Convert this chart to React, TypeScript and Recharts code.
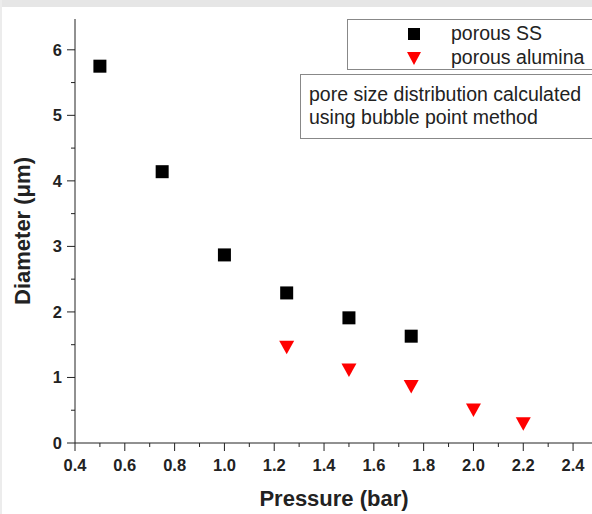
import React from "react";
import { ScatterChart, Scatter, XAxis, YAxis, Legend } from "recharts";

const ssPressure = [0.5, 0.75, 1.0, 1.25, 1.5, 1.75];
const ssDiameter = [5.75, 4.14, 2.87, 2.29, 1.91, 1.63];
const aluminaPressure = [1.25, 1.5, 1.75, 2.0, 2.2];
const aluminaDiameter = [1.47, 1.12, 0.87, 0.51, 0.3];
const xMajorTicks = [0.4, 0.6, 0.8, 1.0, 1.2, 1.4, 1.6, 1.8, 2.0, 2.2, 2.4];
const xMinorTicks = [0.5, 0.7, 0.9, 1.1, 1.3, 1.5, 1.7, 1.9, 2.1, 2.3];
const yMajorTicks = [0, 1, 2, 3, 4, 5, 6];
const yMinorTicks = [0.5, 1.5, 2.5, 3.5, 4.5, 5.5];
const seriesNames = ["porous SS", "porous alumina"];
const noteLines = ["pore size distribution calculated", "using bubble point method"];

const ssData = ssPressure.map((x, i) => ({ x, y: ssDiameter[i] }));
const aluminaData = aluminaPressure.map((x, i) => ({ x, y: aluminaDiameter[i] }));
const xAllTicks = [...xMajorTicks, ...xMinorTicks].sort((a, b) => a - b);
const yAllTicks = [...yMajorTicks, ...yMinorTicks].sort((a, b) => a - b);
const isMajor = (list: number[], v: number) => list.some((m) => Math.abs(m - v) < 1e-6);

const FONT = "'Liberation Sans', Arial, sans-serif";
const AXIS = "#222";
const MAJOR = 8;
const MINOR = 4;

const Square = (props: any) => {
  const { cx, cy } = props;
  return <rect x={cx - 6.5} y={cy - 6.5} width={13} height={13} fill="#000" />;
};
const TriDown = (props: any) => {
  const { cx, cy } = props;
  return <polygon points={`${cx - 7.5},${cy - 6} ${cx + 7.5},${cy - 6} ${cx},${cy + 7.5}`} fill="#ff0000" />;
};

const XTick = (props: any) => {
  const { x, y, payload } = props;
  const v = payload.value;
  const major = isMajor(xMajorTicks, v);
  return (
    <g>
      <line x1={x} x2={x} y1={y} y2={y + (major ? MAJOR : MINOR)} stroke={AXIS} strokeWidth={1} />
      {major && (
        <text
          x={x}
          y={y + MAJOR + 8}
          dy="0.71em"
          textAnchor="middle"
          fill="#222"
          fontFamily={FONT}
          fontSize={16.5}
          fontWeight="bold"
        >
          {v.toFixed(1)}
        </text>
      )}
    </g>
  );
};

const YTick = (props: any) => {
  const { x, y, payload } = props;
  const v = payload.value;
  const major = isMajor(yMajorTicks, v);
  return (
    <g>
      <line x1={x - (major ? MAJOR : MINOR)} x2={x} y1={y} y2={y} stroke={AXIS} strokeWidth={1} />
      {major && (
        <text
          x={x - MAJOR - 5}
          y={y}
          dy="0.355em"
          textAnchor="end"
          fill="#222"
          fontFamily={FONT}
          fontSize={16.5}
          fontWeight="bold"
        >
          {String(v)}
        </text>
      )}
    </g>
  );
};

const LegendBox = () => (
  <div
    style={{
      position: "absolute",
      left: 347,
      top: 19,
      width: 260,
      height: 51,
      border: "1px solid #888",
      background: "#fff",
      boxSizing: "border-box",
    }}
  >
    <svg width={260} height={49} style={{ position: "absolute", left: 0, top: 0 }}>
      <rect x={60} y={8} width={12} height={12} fill="#000" />
      <polygon points="59,32 73,32 66,45" fill="#ff0000" />
      <text x={103} y={20} fontFamily={FONT} fontSize={19.5} fill="#222">{seriesNames[0]}</text>
      <text x={103} y={44} fontFamily={FONT} fontSize={19.5} fill="#222">{seriesNames[1]}</text>
    </svg>
  </div>
);

const NoteBox = () => (
  <div
    style={{
      position: "absolute",
      left: 300,
      top: 74,
      width: 320,
      height: 65,
      border: "1px solid #888",
      background: "#fff",
      boxSizing: "border-box",
      fontFamily: FONT,
      fontSize: 19.5,
      color: "#222",
      padding: "8px 0 0 8px",
      lineHeight: "23px",
    }}
  >
    {noteLines.map((l) => (
      <div key={l}>{l}</div>
    ))}
  </div>
);

export default function App() {
  return (
    <div
      style={{
        position: "absolute",
        left: 0,
        top: 0,
        width: 592,
        height: 514,
        overflow: "hidden",
        background: "#fff",
      }}
    >
      <div style={{ position: "absolute", left: 0, top: 0, width: 592, height: 7, background: "#e6e6e6" }} />
      <div style={{ position: "absolute", left: 0, top: 0, width: 2, height: 514, background: "#ececec" }} />
      <ScatterChart width={600} height={514} margin={{ top: 19, right: 7, bottom: 0, left: 0 }}>
        <XAxis
          type="number"
          dataKey="x"
          xAxisId="main"
          domain={[0.4, 2.48]}
          ticks={xAllTicks}
          interval={0}
          allowDataOverflow
          tickSize={0}
          tickMargin={0}
          tickLine={false}
          stroke={AXIS}
          tick={XTick}
          height={71}
          label={{
            value: "Pressure (bar)",
            position: "insideBottom",
            offset: 8,
            fill: "#222",
            fontFamily: FONT,
            fontSize: 22,
            fontWeight: "bold",
          }}
        />
        <XAxis
          type="number"
          dataKey="x"
          xAxisId="top"
          orientation="top"
          domain={[0.4, 2.48]}
          tick={false}
          tickLine={false}
          stroke="#555"
          height={0}
        />
        <YAxis
          type="number"
          dataKey="y"
          yAxisId="main"
          domain={[0, 6.47]}
          ticks={yAllTicks}
          interval={0}
          allowDataOverflow
          tickSize={0}
          tickMargin={0}
          tickLine={false}
          stroke={AXIS}
          width={75}
          tick={YTick}
          label={{
            content: (p: any) => {
              const vb = p.viewBox;
              const cx = vb.x + 22;
              const cy = vb.y + vb.height / 2;
              return (
                <text
                  x={cx}
                  y={cy}
                  transform={`rotate(-90 ${cx} ${cy})`}
                  textAnchor="middle"
                  dominantBaseline="central"
                  fill="#222"
                  fontFamily={FONT}
                  fontSize={22}
                  fontWeight="bold"
                >
                  Diameter (μm)
                </text>
              );
            },
          }}
        />
        <Scatter
          name={seriesNames[0]}
          data={ssData}
          xAxisId="main"
          yAxisId="main"
          shape={Square}
          isAnimationActive={false}
        />
        <Scatter
          name={seriesNames[1]}
          data={aluminaData}
          xAxisId="main"
          yAxisId="main"
          shape={TriDown}
          isAnimationActive={false}
        />
        <Legend content={() => null} />
      </ScatterChart>
      <LegendBox />
      <NoteBox />
    </div>
  );
}
